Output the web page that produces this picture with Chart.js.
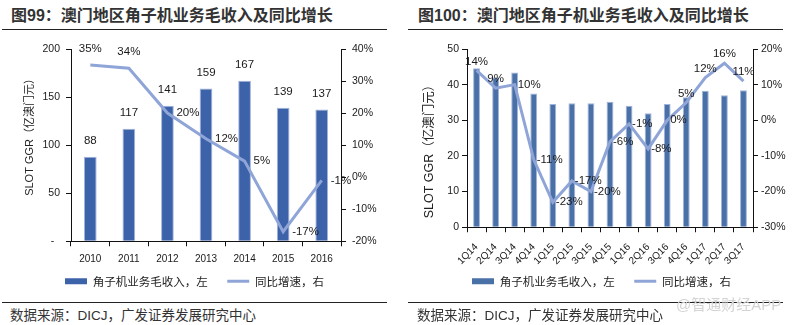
<!DOCTYPE html>
<html><head><meta charset="utf-8">
<script src="https://cdn.jsdelivr.net/npm/chart.js@4.4.1/dist/chart.umd.min.js"></script>
<style>
html,body{margin:0;padding:0;background:#fff;}
body{width:792px;height:325px;overflow:hidden;position:relative;font-family:"Liberation Sans","Noto Sans CJK SC",sans-serif;}
.title{position:absolute;top:6px;font-weight:bold;font-size:16px;line-height:20px;color:#333;white-space:nowrap;font-family:"Liberation Sans","Noto Sans CJK SC",sans-serif;}
.rule{position:absolute;height:1px;background:#222;}
.src{position:absolute;top:307px;font-size:13.5px;line-height:18px;color:#333;white-space:nowrap;font-family:"Liberation Sans","Noto Sans CJK SC",sans-serif;}
.wm{position:absolute;top:296px;left:676px;font-size:15px;line-height:18px;color:#d4d4d4;white-space:nowrap;font-family:"Liberation Sans","Noto Sans CJK SC",sans-serif;}
canvas{position:absolute;}
</style></head>
<body>
<div class="title" style="left:11px">图99：澳门地区角子机业务毛收入及同比增长</div>
<div class="title" style="left:418px">图100：澳门地区角子机业务毛收入及同比增长</div>
<div class="rule" style="left:2px;width:385px;top:29px"></div>
<div class="rule" style="left:408px;width:375px;top:29px"></div>
<canvas id="c1" width="389" height="262" style="left:0;top:35px;width:389px;height:262px"></canvas>
<canvas id="c2" width="381" height="262" style="left:411px;top:35px;width:381px;height:262px"></canvas>
<div class="rule" style="left:2px;width:385px;top:302px"></div>
<div class="rule" style="left:408px;width:375px;top:302px"></div>
<div class="src" style="left:10px">数据来源：DICJ，广发证券发展研究中心</div>
<div class="src" style="left:417px">数据来源：DICJ，广发证券发展研究中心</div>
<div class="wm">@智通财经APP</div>
<script>
// ---- data: annual ----
const yearCats = ['2010','2011','2012','2013','2014','2015','2016'];
const yearRevenue = [88,117,141,159,167,139,137];
const yearGrowth = [35,34,20,12,5,-17,-1];
const yearLeftTicks = [0,50,100,150,200];
const yearRightTicks = [-20,-10,0,10,20,30,40];
// ---- data: quarterly ----
const quarterCats = ['1Q14','2Q14','3Q14','4Q14','1Q15','2Q15','3Q15','4Q15','1Q16','2Q16','3Q16','4Q16','1Q17','2Q17','3Q17'];
const quarterRevenue = [44.6,42.0,43.4,37.5,34.6,34.8,34.8,35.2,34.1,32.0,34.6,36.5,38.3,37.0,38.4];
const quarterGrowth = [14,9,10,-11,-23,-17,-20,-6,-1,-8,0,5,12,16,11];
const quarterLeftTicks = [0,10,20,30,40,50];
const quarterRightTicks = [-30,-20,-10,0,10,20];
const seriesNames = ['角子机业务毛收入，左', '同比增速，右'];
// label placement (style)
const yearGrowthAlign = ['top','top','right','right','right','right','right'];
const quarterGrowthAlign = ['top','top','right','right','right','right','right','right','right','right','right','top','top','top','top'];

const SANS = '"Liberation Sans","Noto Sans CJK SC",sans-serif';
const LINE_COLOR = '#8FA5D8';

const labelPlugin = {
  id: 'valueLabels',
  afterDatasetsDraw(chart) {
    const ctx = chart.ctx;
    chart.data.datasets.forEach((ds, di) => {
      const cfg = ds.valueLabels; if (!cfg) return;
      const meta = chart.getDatasetMeta(di);
      ctx.save();
      ctx.font = cfg.font; ctx.fillStyle = cfg.color;
      meta.data.forEach((el, i) => {
        const txt = cfg.format(ds.data[i]);
        const a = Array.isArray(cfg.align) ? cfg.align[i] : cfg.align;
        let x = el.x, y = el.y;
        if (a === 'right') { ctx.textAlign = 'left'; ctx.textBaseline = 'middle'; x += cfg.offsetRight; }
        else { ctx.textAlign = 'center'; ctx.textBaseline = 'middle'; y -= cfg.offsetTop; }
        ctx.fillText(txt, x, y);
      });
      ctx.restore();
    });
  }
};

function legendLabels(chart) {
  const n = chart.data.datasets.length;
  return chart.data.datasets.map((ds, i) => {
    const isLine = ds.type === 'line';
    return {
      // ideographic space widens the gap between the two legend entries
      text: i < n - 1 ? ds.label + '\u3000' : ds.label,
      fillStyle: isLine ? ds.borderColor : ds.backgroundColor,
      strokeStyle: isLine ? ds.borderColor : ds.backgroundColor,
      lineWidth: isLine ? 3 : 0,
      pointStyle: isLine ? 'line' : 'rect',
      hidden: false, datasetIndex: i, fontColor: '#222'
    };
  });
}

function makeChart(id, o) {
  return new Chart(document.getElementById(id), {
    data: {
      labels: o.cats,
      datasets: [
        { type: 'bar', label: seriesNames[0], data: o.bars, yAxisID: 'y',
          backgroundColor: o.barColor, borderColor: o.barBorder, borderWidth: 1,
          barPercentage: o.barPct, categoryPercentage: 1, order: 1,
          valueLabels: o.barLabels },
        { type: 'line', label: seriesNames[1], data: o.line, yAxisID: 'y1',
          borderColor: LINE_COLOR, backgroundColor: LINE_COLOR, borderWidth: 3,
          pointRadius: 0, tension: 0, order: 0,
          valueLabels: o.lineLabels }
      ]
    },
    options: {
      responsive: false, animation: false, devicePixelRatio: 1,
      layout: { padding: { top: 14, left: 0, right: 0, bottom: 0 } },
      plugins: {
        tooltip: { enabled: false },
        legend: { position: 'bottom', align: 'center',
          labels: { usePointStyle: true, pointStyleWidth: 22, boxHeight: 6, padding: 8,
            color: '#222', font: { family: '"Noto Sans CJK SC",sans-serif', size: 11.5 },
            generateLabels: legendLabels } }
      },
      scales: {
        x: {
          offset: true,
          grid: { display: true, offset: true, drawOnChartArea: false, drawTicks: true, tickLength: 5, color: '#111' },
          border: { display: true, color: '#111', width: 1 },
          ticks: { color: '#1a1a1a', font: { family: SANS, size: o.xFont }, padding: o.xPad,
            autoSkip: false, minRotation: o.rot, maxRotation: o.rot },
          afterFit: s => { s.height = o.xHeight; }
        },
        y: {
          position: 'left', min: o.lt[0], max: o.lt[o.lt.length-1],
          afterBuildTicks: s => { s.ticks = o.lt.map(v => ({ value: v })); },
          grid: { display: true, drawOnChartArea: false, drawTicks: true, tickLength: 5, color: '#111' },
          border: { display: true, color: '#111', width: 1 },
          ticks: { color: '#1a1a1a', font: { family: SANS, size: o.tickFont }, padding: o.lPad,
            callback: o.leftFmt },
          title: { display: true, text: o.yTitle, color: '#222',
            font: { family: SANS, size: o.yTitleFont }, padding: { top: o.yTitlePad, bottom: 0 } },
          afterFit: s => { s.width = o.lWidth; }
        },
        y1: {
          position: 'right', min: o.rt[0], max: o.rt[o.rt.length-1],
          afterBuildTicks: s => { s.ticks = o.rt.map(v => ({ value: v })); },
          grid: { display: true, drawOnChartArea: false, drawTicks: true, tickLength: 5, color: '#111' },
          border: { display: true, color: '#111', width: 1 },
          ticks: { color: '#1a1a1a', font: { family: SANS, size: o.tickFont }, padding: o.rPad,
            callback: v => v + '%' },
          afterFit: s => { s.width = o.rWidth; }
        }
      }
    },
    plugins: [labelPlugin]
  });
}

makeChart('c1', {
  cats: yearCats, bars: yearRevenue, line: yearGrowth, lt: yearLeftTicks, rt: yearRightTicks,
  barColor: '#3C62AA', barBorder: '#A3B4DA', barPct: 0.33,
  xFont: 10, xPad: 7, rot: 0, xHeight: 26.25, tickFont: 10.5,
  lPad: 6, rPad: 6, lWidth: 71, rWidth: 48,
  leftFmt: v => v === 0 ? '-  ' : String(v),
  yTitle: '       SLOT GGR（亿澳门元）', yTitleFont: 11, yTitlePad: 23,
  barLabels: { font: '11.5px ' + SANS, color: '#1a1a1a', format: v => String(v), align: 'top', offsetTop: 15.5, offsetRight: 0 },
  lineLabels: { font: '11.5px ' + SANS, color: '#1a1a1a', format: v => v + '%', align: yearGrowthAlign, offsetTop: 16, offsetRight: 9 }
});

makeChart('c2', {
  cats: quarterCats, bars: quarterRevenue, line: quarterGrowth, lt: quarterLeftTicks, rt: quarterRightTicks,
  barColor: '#4A70A8', barBorder: '#A3B4DA', barPct: 0.36,
  xFont: 10, xPad: 9, rot: 45, xHeight: 40.25, tickFont: 10.5,
  lPad: 3, rPad: 3, lWidth: 56, rWidth: 39,
  leftFmt: v => String(v),
  yTitle: 'SLOT GGR（亿澳门元）      ', yTitleFont: 12.5, yTitlePad: 11,
  barLabels: null,
  lineLabels: { font: '11.5px ' + SANS, color: '#1a1a1a', format: v => v + '%', align: quarterGrowthAlign, offsetTop: 9, offsetRight: 3 }
});
</script>
</body></html>
